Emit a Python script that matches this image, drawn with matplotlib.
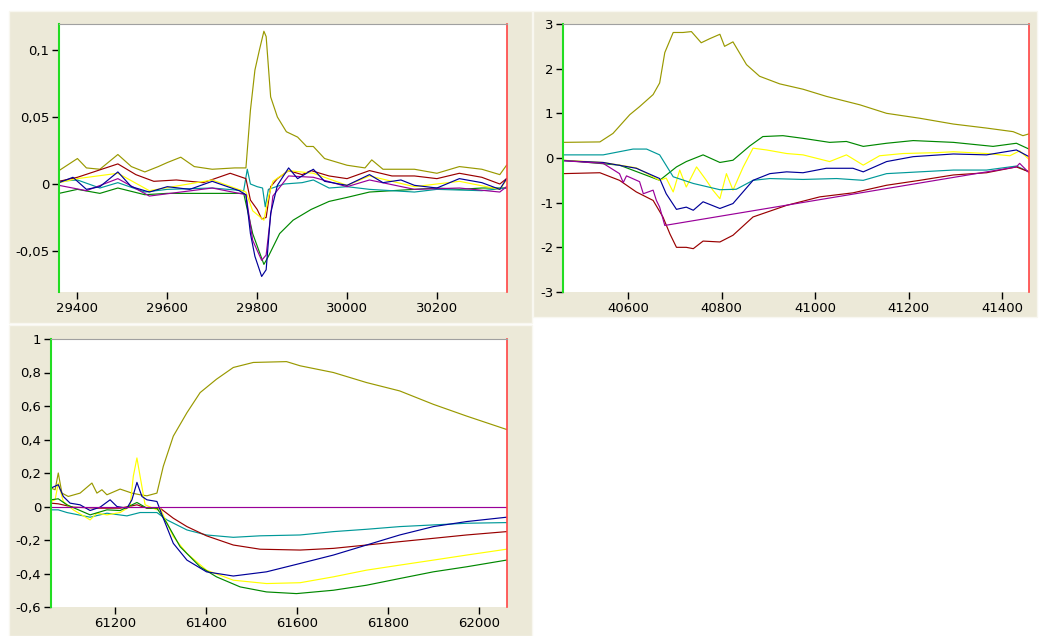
import numpy as np
import matplotlib
matplotlib.use("Agg")
import matplotlib.pyplot as plt
from matplotlib.patches import Rectangle
from matplotlib.ticker import FuncFormatter

OLIVE = "#999900"
MAROON = "#990000"
YELLOW = "#ffff00"
BLUE = "#000099"
PURPLE = "#990099"
TEAL = "#009999"
GREEN = "#008800"

# ---------- panel 1 (top left) ----------
p1_olive_x = [29359, 29400, 29420, 29450, 29490, 29520, 29550, 29580, 29600, 29630, 29660, 29700, 29750, 29775,
              29785, 29795, 29805, 29815, 29820, 29830, 29845, 29865, 29890, 29910, 29925, 29950, 30000, 30040,
              30055, 30080, 30150, 30200, 30250, 30300, 30340, 30355]
p1_olive_y = [0.010, 0.019, 0.012, 0.011, 0.022, 0.013, 0.009, 0.013, 0.016, 0.020, 0.013, 0.011, 0.012, 0.012,
              0.055, 0.085, 0.100, 0.114, 0.110, 0.065, 0.050, 0.039, 0.035, 0.028, 0.028, 0.019, 0.014, 0.012,
              0.018, 0.011, 0.011, 0.008, 0.013, 0.011, 0.007, 0.014]
p1_maroon_x = [29359, 29400, 29490, 29530, 29570, 29620, 29680, 29740, 29775, 29785, 29800, 29810, 29820, 29830,
               29845, 29870, 29900, 29920, 29960, 30000, 30050, 30100, 30150, 30200, 30250, 30300, 30340, 30355]
p1_maroon_y = [0.002, 0.005, 0.015, 0.007, 0.002, 0.003, 0.001, 0.008, 0.004, -0.012, -0.019, -0.026, -0.025,
               -0.002, 0.004, 0.010, 0.007, 0.010, 0.006, 0.004, 0.010, 0.006, 0.006, 0.004, 0.008, 0.005, 0.000, 0.004]
p1_yellow_x = [29359, 29400, 29490, 29560, 29700, 29775, 29790, 29815, 29825, 29835, 29870, 29925, 30000, 30050,
               30150, 30250, 30340, 30355]
p1_yellow_y = [0.001, 0.004, 0.008, -0.005, 0.003, -0.006, -0.020, -0.027, -0.010, 0.002, 0.010, 0.008, -0.001,
               0.006, -0.002, 0.002, -0.004, 0.003]
p1_blue_x = [29359, 29390, 29420, 29450, 29490, 29520, 29560, 29600, 29650, 29700, 29760, 29775, 29785, 29795,
             29810, 29820, 29830, 29845, 29870, 29890, 29925, 29950, 30000, 30050, 30080, 30120, 30150, 30200,
             30250, 30300, 30340, 30355]
p1_blue_y = [0.001, 0.005, -0.004, -0.002, 0.009, -0.002, -0.006, -0.002, -0.004, 0.002, -0.005, -0.008, -0.037,
             -0.054, -0.069, -0.064, -0.022, -0.001, 0.012, 0.004, 0.011, 0.002, -0.001, 0.007, 0.001, 0.003,
             -0.001, -0.003, 0.004, 0.001, -0.004, 0.004]
p1_purple_x = [29359, 29420, 29490, 29560, 29700, 29775, 29790, 29810, 29820, 29835, 29870, 29925, 30000, 30050,
               30150, 30250, 30340, 30355]
p1_purple_y = [-0.001, -0.005, 0.004, -0.009, -0.003, -0.008, -0.042, -0.057, -0.053, -0.009, 0.006, 0.005,
               -0.002, 0.003, -0.004, -0.003, -0.006, -0.002]
p1_teal_x = [29359, 29400, 29450, 29490, 29550, 29600, 29700, 29770, 29778, 29785, 29800, 29812, 29818, 29825,
             29860, 29900, 29925, 29960, 30000, 30050, 30100, 30150, 30200, 30300, 30355]
p1_teal_y = [0.002, 0.003, -0.003, 0.001, -0.006, -0.004, -0.003, -0.005, 0.011, 0.000, -0.002, -0.003, -0.017,
             -0.004, 0.000, 0.001, 0.003, -0.003, -0.002, -0.004, -0.005, -0.006, -0.004, -0.005, -0.003]
p1_green_x = [29359, 29400, 29450, 29490, 29550, 29600, 29700, 29770, 29790, 29815, 29825, 29850, 29880, 29920,
              29960, 30000, 30050, 30100, 30150, 30200, 30250, 30300, 30355]
p1_green_y = [-0.007, -0.004, -0.007, -0.003, -0.008, -0.007, -0.007, -0.007, -0.037, -0.060, -0.054, -0.037,
              -0.027, -0.019, -0.013, -0.010, -0.006, -0.005, -0.004, -0.003, -0.004, -0.003, -0.003]

# ---------- panel 2 (top right) ----------
p2_olive_x = [40460, 40539, 40567, 40603, 40624, 40653, 40667, 40678, 40696, 40717, 40735, 40756, 40774, 40796,
              40806, 40824, 40853, 40881, 40924, 40974, 41024, 41096, 41153, 41224, 41296, 41367, 41424, 41445, 41458]
p2_olive_y = [0.35, 0.36, 0.55, 0.97, 1.15, 1.42, 1.68, 2.36, 2.81, 2.81, 2.83, 2.58, 2.67, 2.77,
              2.50, 2.60, 2.09, 1.83, 1.66, 1.54, 1.38, 1.19, 1.00, 0.89, 0.76, 0.67, 0.59, 0.50, 0.54]
p2_green_x = [40460, 40581, 40667, 40703, 40724, 40760, 40796, 40824, 40860, 40888, 40931, 40974, 41031, 41067,
              41103, 41153, 41210, 41296, 41381, 41431, 41458]
p2_green_y = [-0.05, -0.16, -0.50, -0.20, -0.08, 0.07, -0.10, -0.05, 0.27, 0.48, 0.50, 0.44, 0.35, 0.37,
              0.26, 0.33, 0.39, 0.35, 0.26, 0.33, 0.20]
p2_teal_x = [40460, 40546, 40610, 40639, 40667, 40696, 40739, 40796, 40831, 40867, 40903, 40974, 41046, 41103,
             41153, 41224, 41296, 41367, 41431, 41458]
p2_teal_y = [0.07, 0.07, 0.20, 0.20, 0.07, -0.42, -0.57, -0.71, -0.70, -0.50, -0.46, -0.48, -0.46, -0.50,
             -0.35, -0.31, -0.27, -0.27, -0.18, -0.31]
p2_yellow_x = [40460, 40546, 40617, 40667, 40681, 40696, 40710, 40724, 40746, 40767, 40781, 40796, 40810, 40824,
               40846, 40867, 40896, 40939, 40974, 41031, 41067, 41103, 41138, 41188, 41260, 41296, 41367, 41417,
               41438, 41458]
p2_yellow_y = [-0.05, -0.10, -0.22, -0.50, -0.45, -0.76, -0.27, -0.65, -0.20, -0.50, -0.72, -0.91, -0.35, -0.72,
               -0.20, 0.22, 0.18, 0.10, 0.07, -0.08, 0.07, -0.16, 0.05, 0.10, 0.12, 0.14, 0.10, 0.05,
               0.16, -0.03]
p2_blue_x = [40460, 40546, 40617, 40667, 40681, 40703, 40724, 40739, 40760, 40796, 40824, 40867, 40903, 40939,
             40974, 41024, 41081, 41103, 41153, 41210, 41296, 41367, 41431, 41458]
p2_blue_y = [-0.06, -0.10, -0.23, -0.46, -0.80, -1.15, -1.10, -1.17, -0.98, -1.13, -1.02, -0.50, -0.35, -0.31,
             -0.33, -0.23, -0.23, -0.31, -0.08, 0.03, 0.09, 0.07, 0.18, 0.03]
p2_purple_x = [40460, 40546, 40581, 40589, 40596, 40624, 40632, 40653, 40660, 40667, 40678, 41431, 41438, 41458]
p2_purple_y = [-0.06, -0.12, -0.35, -0.55, -0.40, -0.53, -0.80, -0.72, -0.95, -1.10, -1.51, -0.20, -0.12, -0.33]
p2_maroon_x = [40460, 40539, 40581, 40617, 40653, 40674, 40689, 40703, 40724, 40739, 40760, 40796, 40824, 40867,
               40939, 41010, 41081, 41153, 41224, 41296, 41367, 41431, 41458]
p2_maroon_y = [-0.35, -0.33, -0.50, -0.76, -0.95, -1.32, -1.70, -2.00, -2.00, -2.03, -1.86, -1.88, -1.73, -1.32,
               -1.06, -0.87, -0.78, -0.61, -0.50, -0.38, -0.33, -0.20, -0.31]

# ---------- panel 3 (bottom left) ----------
p3_olive_x = [61059, 61068, 61075, 61083, 61097, 61123, 61149, 61160, 61171, 61182, 61211, 61237, 61255, 61270,
              61292, 61306, 61328, 61358, 61387, 61423, 61460, 61504, 61577, 61607, 61680, 61753, 61826, 61900,
              61973, 62061]
p3_olive_y = [0.11, 0.10, 0.20, 0.08, 0.06, 0.08, 0.14, 0.08, 0.10, 0.07, 0.104, 0.08, 0.07, 0.064,
              0.08, 0.24, 0.42, 0.56, 0.68, 0.76, 0.83, 0.86, 0.865, 0.84, 0.80, 0.74, 0.69, 0.61,
              0.54, 0.46]
p3_purple_x = [61059, 62061]
p3_purple_y = [0.0, 0.0]
p3_yellow_x = [61059, 61068, 61075, 61086, 61108, 61145, 61160, 61182, 61211, 61233, 61240, 61248, 61255, 61266,
               61292, 61299, 61328, 61358, 61401, 61460, 61533, 61607, 61680, 61753, 61826, 61900, 61973, 62061]
p3_yellow_y = [0.03, 0.04, 0.14, 0.03, -0.02, -0.08, -0.04, -0.05, -0.036, 0.0, 0.18, 0.29, 0.18, 0.01,
               -0.02, -0.01, -0.18, -0.28, -0.38, -0.44, -0.46, -0.455, -0.42, -0.38, -0.35, -0.32, -0.29, -0.255]
p3_blue_x = [61059, 61075, 61086, 61101, 61123, 61145, 61167, 61189, 61204, 61226, 61237, 61248, 61259, 61270,
             61292, 61306, 61328, 61358, 61401, 61460, 61533, 61607, 61680, 61753, 61826, 61900, 61973, 62061]
p3_blue_y = [0.11, 0.13, 0.06, 0.02, 0.01, -0.024, -0.004, 0.04, 0.0, -0.01, 0.04, 0.144, 0.06, 0.04,
             0.03, -0.07, -0.22, -0.32, -0.39, -0.415, -0.39, -0.34, -0.29, -0.23, -0.17, -0.12, -0.09, -0.064]
p3_green_x = [61059, 61075, 61094, 61145, 61182, 61211, 61248, 61270, 61292, 61314, 61343, 61387, 61423, 61475,
              61533, 61599, 61680, 61753, 61826, 61900, 61973, 62061]
p3_green_y = [0.04, 0.046, 0.01, -0.05, -0.02, -0.024, 0.024, -0.01, -0.01, -0.10, -0.24, -0.36, -0.42, -0.48,
              -0.51, -0.52, -0.50, -0.47, -0.43, -0.39, -0.36, -0.32]
p3_teal_x = [61059, 61075, 61094, 61145, 61182, 61226, 61255, 61292, 61314, 61358, 61401, 61460, 61519, 61607,
             61680, 61753, 61826, 61900, 61973, 62061]
p3_teal_y = [-0.02, -0.02, -0.036, -0.064, -0.04, -0.056, -0.036, -0.036, -0.08, -0.14, -0.17, -0.184, -0.175,
             -0.17, -0.15, -0.136, -0.12, -0.11, -0.10, -0.096]
p3_maroon_x = [61059, 61075, 61108, 61167, 61211, 61248, 61270, 61299, 61328, 61358, 61401, 61460, 61519, 61607,
               61680, 61753, 61826, 61900, 61973, 62061]
p3_maroon_y = [0.02, 0.016, -0.004, -0.01, -0.01, 0.01, -0.01, -0.01, -0.07, -0.12, -0.175, -0.23, -0.255, -0.26,
               -0.25, -0.23, -0.21, -0.19, -0.17, -0.15]

W, H = 1045, 636
fig = plt.figure(figsize=(W / 100, H / 100), dpi=100)
fig.patch.set_facecolor("white")

# beige panel backgrounds (pixel boxes: left, top, right, bottom)
for l, t, r, b in [(9, 11, 532, 323), (533, 11, 1037, 317), (9, 325, 532, 636)]:
    fig.patches.append(Rectangle((l / W, 1 - b / H), (r - l) / W, (b - t) / H, transform=fig.transFigure,
                                 facecolor="#ece9d8", edgecolor="#f8f7f0", linewidth=1, zorder=-5))


def comma(v, pos):
    s = "%g" % round(v, 4)
    return s.replace(".", ",")


def make_axes(box, xlim, ylim, xticks, yticks, series):
    l, t, r, b = box
    ax = fig.add_axes([l / W, 1 - b / H, (r - l) / W, (b - t) / H])
    ax.set_zorder(2)
    ax.set_facecolor("white")
    for x, y, c in series:
        ax.plot(x, y, color=c, linewidth=0.85)
    ax.set_xlim(*xlim)
    ax.set_ylim(*ylim)
    ax.set_xticks(xticks)
    ax.set_yticks(yticks)
    ax.yaxis.set_major_formatter(FuncFormatter(comma))
    ax.tick_params(direction="out", length=5, width=1, labelsize=9.5, pad=2, colors="black")
    ax.spines["left"].set_color("#22dd22")
    ax.spines["left"].set_linewidth(1.5)
    ax.spines["right"].set_color("#ff4444")
    ax.spines["right"].set_linewidth(1.2)
    ax.spines["top"].set_color("#a0a0a0")
    ax.spines["top"].set_linewidth(0.8)
    ax.spines["bottom"].set_visible(False)
    return ax


make_axes((59, 24, 507, 292), (29359, 30356), (-0.0806, 0.1194),
          [29400, 29600, 29800, 30000, 30200], [-0.05, 0, 0.05, 0.1],
          [(p1_olive_x, p1_olive_y, OLIVE), (p1_green_x, p1_green_y, GREEN),
           (p1_teal_x, p1_teal_y, TEAL), (p1_maroon_x, p1_maroon_y, MAROON),
           (p1_yellow_x, p1_yellow_y, YELLOW), (p1_purple_x, p1_purple_y, PURPLE),
           (p1_blue_x, p1_blue_y, BLUE)])

make_axes((563, 24, 1029, 292), (40460, 41458), (-3, 3),
          [40600, 40800, 41000, 41200, 41400], [-3, -2, -1, 0, 1, 2, 3],
          [(p2_olive_x, p2_olive_y, OLIVE), (p2_green_x, p2_green_y, GREEN),
           (p2_yellow_x, p2_yellow_y, YELLOW), (p2_teal_x, p2_teal_y, TEAL),
           (p2_blue_x, p2_blue_y, BLUE), (p2_maroon_x, p2_maroon_y, MAROON),
           (p2_purple_x, p2_purple_y, PURPLE)])

make_axes((51, 339, 507, 607), (61059, 62062), (-0.6, 1.0),
          [61200, 61400, 61600, 61800, 62000], [-0.6, -0.4, -0.2, 0, 0.2, 0.4, 0.6, 0.8, 1],
          [(p3_olive_x, p3_olive_y, OLIVE), (p3_teal_x, p3_teal_y, TEAL),
           (p3_maroon_x, p3_maroon_y, MAROON), (p3_yellow_x, p3_yellow_y, YELLOW),
           (p3_green_x, p3_green_y, GREEN), (p3_blue_x, p3_blue_y, BLUE),
           (p3_purple_x, p3_purple_y, PURPLE)])

fig.savefig("out.png", dpi=100, facecolor="white")
